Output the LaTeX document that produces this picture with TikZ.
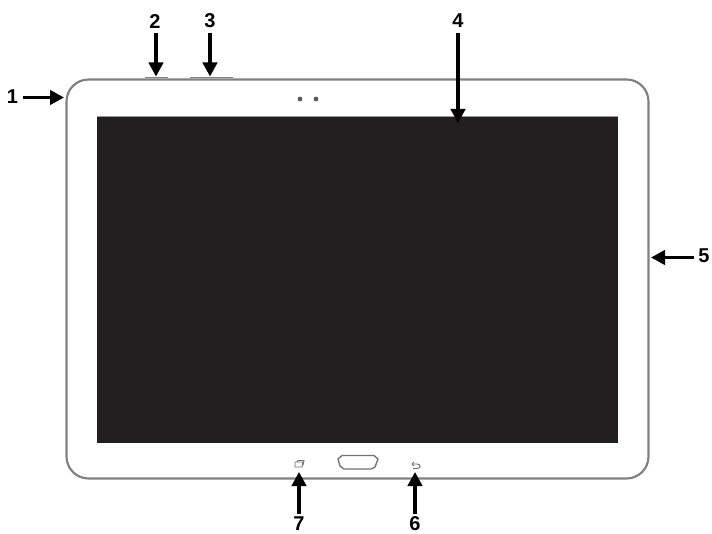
\documentclass[tikz,border=0pt]{standalone}
\usepackage{fontspec}
\setmainfont{Liberation Sans}
\usetikzlibrary{arrows.meta}
\definecolor{screenc}{HTML}{231F20}
\tikzset{
  x=0.75pt,y=-0.75pt,
  callout/.style={line width=2.3pt,draw=black,-{Triangle[length=10.5pt,width=10.8pt]}},
  numlabel/.style={font=\bfseries\fontsize{15}{16}\selectfont,inner sep=0pt,outer sep=3.7pt,text=black},
  bodyline/.style={draw=black!50,line width=1.6pt,rounded corners=16.5pt},
  keyline/.style={draw=black!55,line width=0.7pt},
}
\begin{document}
\begin{tikzpicture}
\useasboundingbox (0,0) rectangle (712,534);
\fill[white] (0,0) rectangle (712,534);
% volume / power keys
\draw[black!50,line width=0.9pt] (145,77.6) -- (168,77.6);
\draw[black!50,line width=0.9pt] (190,77.6) -- (233,77.6);
% body
\draw[bodyline] (66.5,79.5) rectangle (648.5,478.5);
% screen
\fill[screenc] (97,116) rectangle (618,443);
\draw[black!40,line width=0.6pt] (97,116) -- (618,116);
% camera
\fill[black!65] (300,99) circle (2.4);
\fill[black!65] (316,99) circle (2.4);
% home key
\draw[black!55,line width=1pt,fill=white,line join=round]
  (342,455.5) -- (374,455.5) -- (378,459) -- (375,467) -- (371,469) -- (344,469) -- (340,466) -- (338,459) -- cycle;
% recent key
\draw[keyline] (295,462) -- (303,462) -- (302,467) -- (295,467) -- cycle;
\draw[keyline] (297,462) -- (298,460.5) -- (304,460.5) -- (303,465);
% back key
\draw[keyline] (412,464) -- (417,464) .. controls (421,464) and (421,468.5) .. (417,468.5) -- (413,468.5);
\draw[keyline] (414,462) -- (412,464) -- (414,466);
% callouts
\node[numlabel] (n1) at (12.5,96.5) {1};
\node[numlabel] (n2) at (155,21.5) {2};
\node[numlabel] (n3) at (210,21) {3};
\node[numlabel] (n4) at (458,21) {4};
\node[numlabel] (n5) at (704,256) {5};
\node[numlabel,outer sep=2pt] (n6) at (415,523.5) {6};
\node[numlabel,outer sep=2pt] (n7) at (299,523.5) {7};
\coordinate (t1) at (64,97.5);
\coordinate (t2) at (156,76.5);
\coordinate (t3) at (210,76.5);
\coordinate (t4) at (458,123);
\coordinate (t5) at (651,257.5);
\coordinate (t6) at (415,472);
\coordinate (t7) at (299,472);
\draw[callout] (n1.east |- t1) -- (t1);
\draw[callout] (t2 |- n2.south) -- (t2);
\draw[callout] (t3 |- n3.south) -- (t3);
\draw[callout] (t4 |- n4.south) -- (t4);
\draw[callout] (n5.west |- t5) -- (t5);
\draw[callout] (t6 |- n6.north) -- (t6);
\draw[callout] (t7 |- n7.north) -- (t7);
\end{tikzpicture}
\end{document}
